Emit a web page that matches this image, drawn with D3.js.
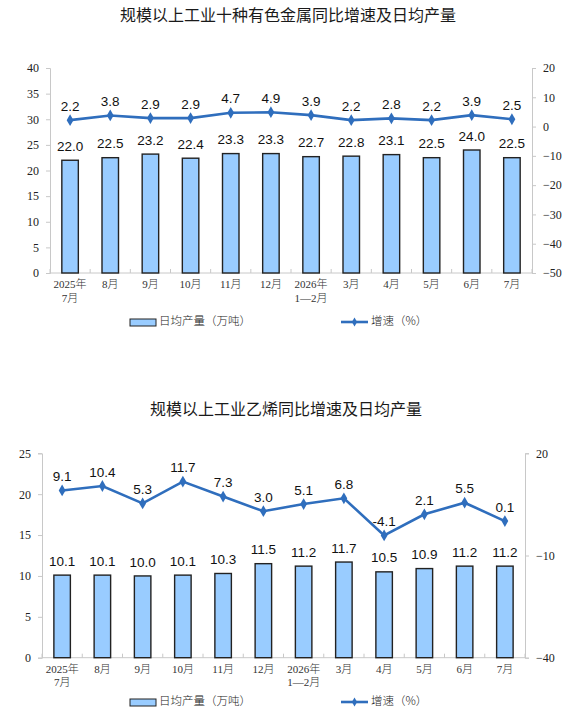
<!DOCTYPE html>
<html><head><meta charset="utf-8">
<script src="https://cdn.jsdelivr.net/npm/d3@7"></script>
<style>body{margin:0;background:#fff}</style>
</head><body>
<svg id="c" width="576" height="723"></svg>
<script>
const categories = [["2025年","7月"],["8月"],["9月"],["10月"],["11月"],["12月"],["2026年","1—2月"],["3月"],["4月"],["5月"],["6月"],["7月"]];
const metalsTitle = "规模以上工业十种有色金属同比增速及日均产量";
const metalsOutput = [22.0,22.5,23.2,22.4,23.3,23.3,22.7,22.8,23.1,22.5,24.0,22.5];
const metalsGrowth = [2.2,3.8,2.9,2.9,4.7,4.9,3.9,2.2,2.8,2.2,3.9,2.5];
const metalsLeftTicks = [0,5,10,15,20,25,30,35,40];
const metalsRightTicks = [-50,-40,-30,-20,-10,0,10,20];
const ethTitle = "规模以上工业乙烯同比增速及日均产量";
const ethOutput = [10.1,10.1,10.0,10.1,10.3,11.5,11.2,11.7,10.5,10.9,11.2,11.2];
const ethGrowth = [9.1,10.4,5.3,11.7,7.3,3.0,5.1,6.8,-4.1,2.1,5.5,0.1];
const ethLeftTicks = [0,5,10,15,20,25];
const ethRightTicks = [-40,-10,20];
const legendBar = "日均产量（万吨）";
const legendLine = "增速（%）";

const svg = d3.select("#c");
const BAR_FILL = "#99CCFF", LINE_COL = "#2F6EBD", AXIS_COL = "#c8c8c8";

function drawChart(o){
  const g = svg.append("g");
  g.append("text").attr("x", o.titleX).attr("y", o.titleY)
    .attr("text-anchor","middle").attr("dominant-baseline","middle")
    .style("font-family","'Noto Sans CJK SC'").style("font-size","16px").attr("fill","#1a1a1a")
    .text(o.title);
  const x = d3.scaleBand().domain(d3.range(categories.length)).range([o.x0,o.x1]);
  const yL = d3.scaleLinear().domain(o.leftDomain).range([o.yBot,o.yTop]);
  const yR = d3.scaleLinear().domain(o.rightDomain).range([o.yBot,o.yTop]);

  const la = g.append("g").attr("transform",`translate(${o.x0},0)`)
    .call(d3.axisLeft(yL).tickValues(o.leftTicks).tickSize(4).tickPadding(7).tickFormat(d3.format("d")));
  la.select(".domain").attr("stroke",AXIS_COL);
  la.selectAll(".tick line").attr("stroke",AXIS_COL);
  la.selectAll("text").style("font-family","'Liberation Serif'").style("font-size","12px").attr("fill","#222");
  const ra = g.append("g").attr("transform",`translate(${o.x1},0)`)
    .call(d3.axisRight(yR).tickValues(o.rightTicks).tickSize(4).tickPadding(7).tickFormat(d3.format("d")));
  ra.select(".domain").attr("stroke",AXIS_COL);
  ra.selectAll(".tick line").attr("stroke",AXIS_COL);
  ra.selectAll("text").style("font-family","'Liberation Serif'").style("font-size","12px").attr("fill","#222");
  g.append("line").attr("x1",o.x0).attr("x2",o.x1).attr("y1",o.yBot).attr("y2",o.yBot).attr("stroke",AXIS_COL);
  d3.range(categories.length+1).forEach(i=>{
    const xx = o.x0 + i*x.step();
    g.append("line").attr("x1",xx).attr("x2",xx).attr("y1",o.yBot).attr("y2",o.yBot-4).attr("stroke",AXIS_COL);
  });
  categories.forEach((c,i)=>{
    const t = g.append("text").attr("x", x(i)+x.bandwidth()/2).attr("y", o.yBot+15)
      .attr("text-anchor","middle").style("font-family","'Liberation Serif','Noto Sans CJK SC'")
      .style("font-size","11px").style("font-weight","300").attr("fill","#333");
    c.forEach((s,k)=> t.append("tspan").attr("x", x(i)+x.bandwidth()/2).attr("dy", k===0?0:13.5).text(s));
  });
  const bw = 16.5;
  o.bars.forEach((v,i)=>{
    const cx = x(i)+x.bandwidth()/2;
    g.append("rect").attr("x",cx-bw/2).attr("y",yL(v)).attr("width",bw).attr("height",o.yBot-yL(v))
      .attr("fill",BAR_FILL).attr("stroke","#222").attr("stroke-width",1.4);
    g.append("text").attr("x",cx).attr("y",yL(v)-13).attr("text-anchor","middle").attr("dominant-baseline","middle")
      .style("font-family","'Liberation Sans'").style("font-size","13.5px").attr("fill","#111").text(v.toFixed(1));
  });
  const line = d3.line().x((d,i)=>x(i)+x.bandwidth()/2).y(d=>yR(d));
  g.append("path").datum(o.line).attr("d",line).attr("fill","none").attr("stroke",LINE_COL).attr("stroke-width",2.6);
  const diamond = d3.symbol().type(d3.symbolDiamond).size(40);
  o.line.forEach((v,i)=>{
    const cx = x(i)+x.bandwidth()/2;
    g.append("path").attr("d",diamond).attr("transform",`translate(${cx},${yR(v)})`).attr("fill",LINE_COL);
    g.append("text").attr("x",cx).attr("y",yR(v)-13).attr("text-anchor","middle").attr("dominant-baseline","middle")
      .style("font-family","'Liberation Sans'").style("font-size","13.5px").attr("fill","#111").text(v.toFixed(1));
  });
  const ly = o.legendY;
  g.append("rect").attr("x",130).attr("y",ly-3).attr("width",26).attr("height",7)
    .attr("fill",BAR_FILL).attr("stroke","#222").attr("stroke-width",1);
  g.append("text").attr("x",159).attr("y",ly).attr("dominant-baseline","middle")
    .style("font-family","'Noto Sans CJK SC'").style("font-size","11.5px").style("font-weight","300").attr("fill","#222").text(legendBar);
  g.append("line").attr("x1",341).attr("x2",368).attr("y1",ly).attr("y2",ly).attr("stroke",LINE_COL).attr("stroke-width",2.6);
  g.append("path").attr("d",d3.symbol().type(d3.symbolDiamond).size(24)).attr("transform",`translate(354.5,${ly})`).attr("fill",LINE_COL);
  g.append("text").attr("x",371).attr("y",ly).attr("dominant-baseline","middle")
    .style("font-family","'Noto Sans CJK SC'").style("font-size","11.5px").style("font-weight","300").attr("fill","#222").text(legendLine);
}

drawChart({title:metalsTitle,titleX:288,titleY:17,x0:50,x1:532,yTop:68,yBot:273,
  leftDomain:[0,40],rightDomain:[-50,20],leftTicks:metalsLeftTicks,rightTicks:metalsRightTicks,
  bars:metalsOutput,line:metalsGrowth,legendY:322});
drawChart({title:ethTitle,titleX:286,titleY:411,x0:42,x1:525,yTop:453.3,yBot:657.7,
  leftDomain:[0,25],rightDomain:[-40,20],leftTicks:ethLeftTicks,rightTicks:ethRightTicks,
  bars:ethOutput,line:ethGrowth,legendY:702});
</script>
</body></html>
